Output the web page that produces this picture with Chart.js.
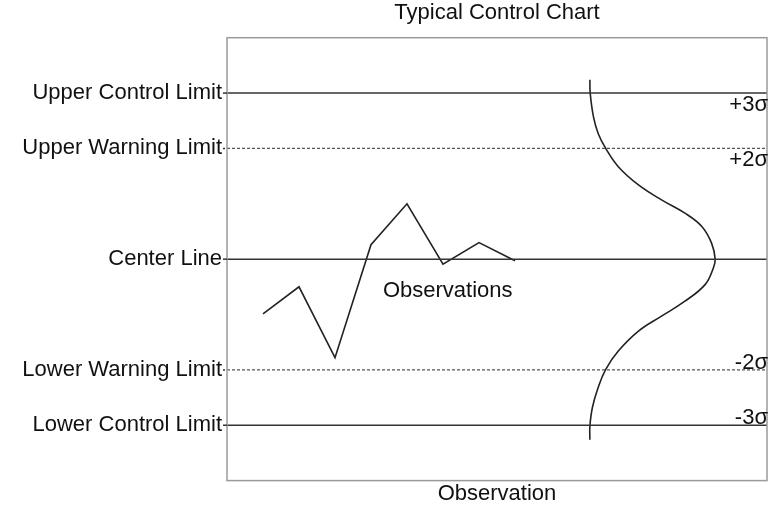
<!DOCTYPE html>
<html>
<head>
<meta charset="utf-8">
<style>
  html, body { margin: 0; padding: 0; background: #fff; }
  #wrap { width: 769px; height: 507px; }
</style>
<script src="https://cdn.jsdelivr.net/npm/chart.js@4.4.1/dist/chart.umd.min.js"></script>
</head>
<body>
<div id="wrap"><canvas id="chart" width="769" height="507"></canvas></div>
<script>
// === DATA ===
const limitValues = [3, 2, 0, -2, -3];
const limitLabels = ['Upper Control Limit', 'Upper Warning Limit', 'Center Line', 'Lower Warning Limit', 'Lower Control Limit'];
const sigmaLabels = ['+3\u03c3', '+2\u03c3', '', '-2\u03c3', '-3\u03c3'];
const dottedLimits = [false, true, false, true, false];

const obsX = [1, 2, 3, 4, 5, 6, 7, 8];
const obsY = [-0.99, -0.50, -1.78, 0.26, 1.00, -0.09, 0.30, -0.03];

// bell curve (x = observation axis, y = sigma)
const curveX = [10.08, 10.09, 10.18, 10.31, 10.52, 10.87, 11.43, 12.07, 12.72, 13.19, 13.46, 13.56,
                13.51, 13.28, 12.72, 12.07, 11.43, 10.87, 10.52, 10.31, 10.15, 10.08, 10.08];
const curveY = [3.24, 2.99, 2.57, 2.27, 2.00, 1.67, 1.34, 1.07, 0.83, 0.59, 0.29, 0,
                -0.16, -0.46, -0.76, -1.03, -1.30, -1.66, -1.99, -2.32, -2.68, -3.02, -3.26];

const xRange = [0, 15];
const yRange = [-4, 4];

const FONT = "'Liberation Sans', Arial, sans-serif";
const TEXT = '#111';

// limit lines as datasets spanning the x range
const limitSets = limitValues.map((v, i) => ({
    label: limitLabels[i],
    data: [{ x: xRange[0], y: v }, { x: xRange[1], y: v }],
    borderColor: dottedLimits[i] ? '#555' : '#333',
    borderWidth: dottedLimits[i] ? 1.2 : 1.5,
    borderDash: dottedLimits[i] ? [3, 2] : [],
    pointRadius: 0,
    showLine: true
}));

// texts inside the plot + frame
const overlayPlugin = {
    id: 'overlay',
    afterDatasetsDraw(chart) {
        const { ctx, chartArea, scales } = chart;
        const yS = scales.y, xS = scales.x;
        ctx.save();

        // frame
        ctx.strokeStyle = '#9a9a9a';
        ctx.lineWidth = 1.5;
        ctx.strokeRect(chartArea.left, chartArea.top, chartArea.right - chartArea.left, chartArea.bottom - chartArea.top);

        // left stubs of the limit lines
        limitValues.forEach((v, i) => {
            const y = yS.getPixelForValue(v);
            ctx.beginPath();
            ctx.setLineDash(dottedLimits[i] ? [2, 2] : []);
            ctx.strokeStyle = '#333';
            ctx.lineWidth = 1.5;
            ctx.moveTo(chartArea.left - 4, y);
            ctx.lineTo(chartArea.left, y);
            ctx.stroke();
        });
        ctx.setLineDash([]);

        // sigma labels on the right
        ctx.font = '22px ' + FONT;
        ctx.fillStyle = TEXT;
        ctx.textAlign = 'right';
        ctx.textBaseline = 'alphabetic';
        limitValues.forEach((v, i) => {
            if (!sigmaLabels[i]) return;
            const y = yS.getPixelForValue(v);
            const by = v > 0 ? y + 18 : y - 1;
            ctx.fillText(sigmaLabels[i], chartArea.right + 1, by);
        });

        // series label
        ctx.textAlign = 'left';
        ctx.fillText('Observations', xS.getPixelForValue(4.33), yS.getPixelForValue(-0.685));
        ctx.restore();
    }
};

const ctx = document.getElementById('chart').getContext('2d');
const chart = new Chart(ctx, {
    type: 'scatter',
    data: {
        datasets: [
            ...limitSets,
            {
                label: 'Observations',
                data: obsX.map((x, i) => ({ x, y: obsY[i] })),
                borderColor: '#222',
                borderWidth: 1.6,
                pointRadius: 0,
                showLine: true,
                tension: 0
            },
            {
                label: 'Distribution',
                data: curveX.map((x, i) => ({ x, y: curveY[i] })),
                borderColor: '#222',
                borderWidth: 1.6,
                pointRadius: 0,
                showLine: true,
                tension: 0.4
            }
        ]
    },
    options: {
        responsive: false,
        animation: false,
        events: [],
        layout: { padding: { left: 0, right: 2, top: 0, bottom: 0 } },
        plugins: {
            legend: { display: false },
            tooltip: { enabled: false },
            title: { display: false }
        },
        scales: {
            x: {
                type: 'linear',
                min: xRange[0],
                max: xRange[1],
                grid: { display: false, drawTicks: false },
                border: { display: false },
                ticks: { display: false },
                title: {
                    display: true,
                    text: 'Observation',
                    color: TEXT,
                    font: { family: FONT, size: 22 },
                    padding: { top: 0, bottom: 0 }
                }
            },
            // top axis only carries the chart title, centred over the plot
            top: {
                type: 'linear',
                position: 'top',
                min: xRange[0],
                max: xRange[1],
                grid: { display: false, drawTicks: false },
                border: { display: false },
                ticks: { display: false },
                title: {
                    display: true,
                    text: 'Typical Control Chart',
                    color: TEXT,
                    font: { family: FONT, size: 22 },
                    padding: { top: 0, bottom: 11.3 }
                }
            },
            y: {
                type: 'linear',
                min: yRange[0],
                max: yRange[1],
                afterBuildTicks(scale) {
                    scale.ticks = limitValues.map(v => ({ value: v }));
                },
                afterFit(scale) {
                    scale.width = 227;
                },
                grid: { display: false, drawTicks: false },
                border: { display: false },
                ticks: {
                    color: TEXT,
                    padding: 5,
                    font: { family: FONT, size: 22 },
                    callback(value) {
                        const i = limitValues.indexOf(value);
                        return i >= 0 ? limitLabels[i] : '';
                    }
                }
            }
        }
    },
    plugins: [overlayPlugin]
});
</script>
</body>
</html>
